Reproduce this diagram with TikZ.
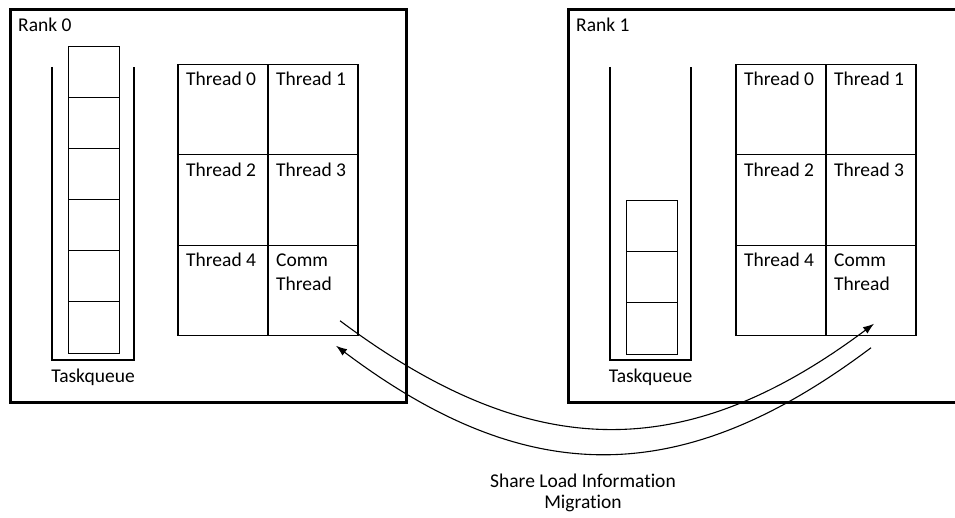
\documentclass[tikz,border=0pt]{standalone}
\usepackage{fontspec}
\setmainfont{Carlito}[Ligatures=NoCommon]
\usetikzlibrary{positioning, arrows.meta}

\newcommand{\labelfont}{\fontsize{19.5}{24}\selectfont}

\begin{document}
\begin{tikzpicture}[x=1pt, y=-1pt,
	rankbox/.style={rectangle, draw, line width=3pt, inner sep=0pt, outer sep=0pt, minimum width=396pt, minimum height=392pt},
	cell/.style={rectangle, draw, line width=1.2pt, inner sep=0pt, outer sep=0pt, minimum width=90pt, minimum height=90.5pt},
	task/.style={rectangle, draw, line width=1pt, inner sep=0pt, outer sep=0pt, minimum width=51pt, minimum height=51pt},
	celltext/.style={anchor=north west, inner sep=0pt, align=left, font=\labelfont},
	mylabel/.style={inner sep=0pt, font=\labelfont},
	queue/.style={line width=1.8pt},
	flow/.style={line width=1.1pt, -{Latex[length=11pt, width=8pt]}},
]

\useasboundingbox (0,0) rectangle (955,518);
\clip (0,0) rectangle (955,518);

% the two ranks
\node[rankbox] (rank0) at (208,206) {};
\node[rankbox] (rank1) at (766,206) {};
\node[celltext] (rank0text) at ([shift={(8,8)}]rank0.north west) {Rank 0};
\node[celltext] (rank1text) at ([shift={(8,8)}]rank1.north west) {Rank 1};

% thread grids
\foreach \r/\x in {0/223, 1/781} {
	\node[cell] (r\r t0) at (\x,109.5) {};
	\node[cell, right=0pt of r\r t0] (r\r t1) {};
	\node[cell, below=0pt of r\r t0] (r\r t2) {};
	\node[cell, right=0pt of r\r t2] (r\r t3) {};
	\node[cell, below=0pt of r\r t2] (r\r t4) {};
	\node[cell, right=0pt of r\r t4] (r\r comm) {};
	\foreach \t in {0,...,4}
		\node[celltext] (r\r t\t text) at ([shift={(8,8)}]r\r t\t.north west) {Thread \t};
	\node[celltext] (r\r commtext) at ([shift={(8,8)}]r\r comm.north west) {Comm\\Thread};
}

% task queues
\draw[queue] (52,67) |- (134,360) -- (134,67);
\node[task] (q0a) at (93.5,72.5) {};
\foreach \n/\p in {b/a, c/b, d/c, e/d, f/e}
	\node[task, below=0pt of q0\p] (q0\n) {};
\node[mylabel] (q0text) at (93,377) {Taskqueue};

\draw[queue] (610,67) |- (691,360) -- (691,67);
\node[task] (q1a) at (651.5,226.5) {};
\node[task, below=0pt of q1a] (q1b) {};
\node[task, below=0pt of q1b] (q1c) {};
\node[mylabel] (q1text) at (650.5,377) {Taskqueue};

% communication between comm threads
\coordinate (out0) at ([shift={(-18,-15)}]r0comm.south east);
\coordinate (in0) at ([shift={(-22,10)}]r0comm.south east);
\coordinate (in1) at ([shift={(-42,-12)}]r1comm.south east);
\coordinate (out1) at ([shift={(-45,12)}]r1comm.south east);

\draw[flow] (out0) .. controls +(190,142) and +(-190,142) .. (in1);
\draw[flow] (out1) .. controls +(-190,143) and +(190,143) .. (in0);

\node[mylabel] (sharetext) at (583,481) {Share Load Information};
\node[mylabel] (migtext) at (583,503) {Migration};

\end{tikzpicture}
\end{document}
